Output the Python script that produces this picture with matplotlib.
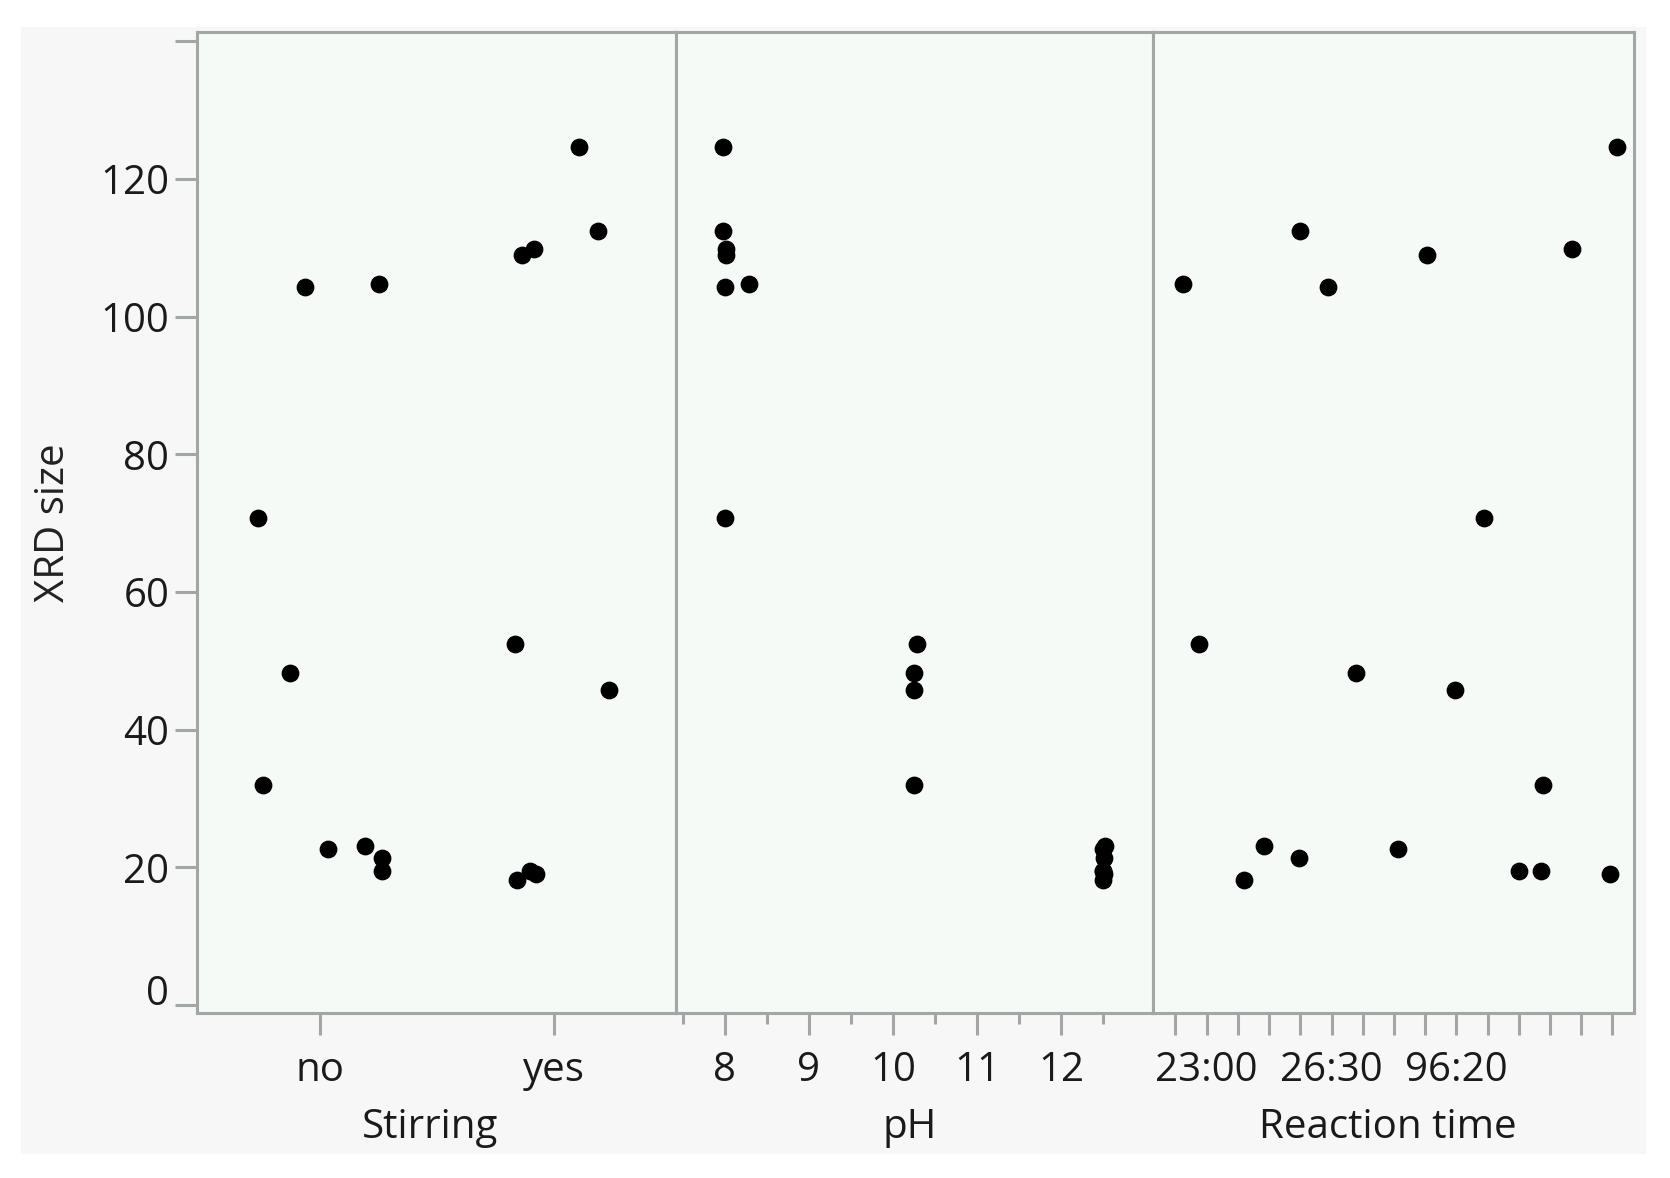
import matplotlib
matplotlib.use("Agg")
import matplotlib.pyplot as plt
import matplotlib.transforms as mtrans
from matplotlib.patches import Rectangle

plt.rcParams['font.family'] = ['Open Sans', 'DejaVu Sans']

# ---- data (one entry per observation) ----
xrd_size = [124.7, 112.4, 109.8, 109.0, 104.8, 104.3, 70.7, 52.5, 48.2,
            45.7, 31.9, 23.1, 22.6, 21.4, 19.4, 19.5, 19.1, 18.1]
# Stirring: category index (0 = no, 1 = yes) plus the displayed jitter
stirring_pos = [1.107, 1.188, 0.915, 0.863, 0.252, -0.064, -0.265, 0.832, -0.128,
                1.233, -0.246, 0.192, 0.033, 0.264, 0.264, 0.897, 0.923, 0.842]
stirring_labels = ["no", "yes"]
# pH as displayed (with small jitter)
ph_pos = [7.98, 7.98, 8.01, 8.01, 8.29, 8.00, 8.00, 10.28, 10.25,
          10.25, 10.25, 12.52, 12.50, 12.51, 12.50, 12.49, 12.51, 12.50]
ph_ticks = [8, 9, 10, 11, 12]
ph_minor = [7.5, 8.5, 9.5, 10.5, 11.5, 12.5]
# Reaction time: ordinal category index (0..14) plus the displayed jitter
rt_pos = [14.14, 3.99, 12.70, 8.06, 0.25, 4.90, 9.87, 0.74, 5.78,
          8.94, 11.79, 2.83, 7.13, 3.97, 11.00, 11.72, 13.92, 2.19]
rt_n_categories = 15
rt_labels = {1: "23:00", 5: "26:30", 9: "96:20"}
y_ticks = [0, 20, 40, 60, 80, 100, 120, 140]
y_labels = ["0", "20", "40", "60", "80", "100", "120", ""]

# ---- figure ----
W, H = 1670, 1178
fig = plt.figure(figsize=(W / 100, H / 100), dpi=100, facecolor="white")

# gray report background
fig.patches.append(Rectangle((21 / W, 1 - 1154 / H), (1646 - 21) / W, (1154 - 27) / H,
                             transform=fig.transFigure, facecolor="#f7f7f7",
                             edgecolor="none", zorder=-10))

frame_col = "#a2a7a3"
bg_col = "#f5faf7"
txt_col = "#1a1a1a"
lw = 2.2
fs = 29

top_px, bot_px = 32.5, 1013
edges = [197, 676, 1153, 1634]
axes = []
for i in range(3):
    ax = fig.add_axes([edges[i] / W, 1 - bot_px / H, (edges[i + 1] - edges[i]) / W,
                       (bot_px - top_px) / H])
    ax.set_facecolor(bg_col)
    for s in ax.spines.values():
        s.set_color(frame_col)
        s.set_linewidth(lw)
    ax.set_ylim(-1.16, 141.3)
    axes.append(ax)

ax1, ax2, ax3 = axes

ms = 11.8
for ax, xs in zip(axes, [stirring_pos, ph_pos, rt_pos]):
    ax.plot(xs, xrd_size, linestyle="none", marker="o", markersize=ms,
            markerfacecolor="black", markeredgecolor="black", clip_on=False, zorder=5)

# y axis on the first panel only
ax1.set_yticks(y_ticks)
ax1.set_yticklabels(y_labels, fontsize=fs, color=txt_col)
ax1.tick_params(axis="y", length=16, width=lw, color=frame_col, pad=4)
lab0 = ax1.get_yticklabels()[0]
lab0.set_transform(lab0.get_transform() +
                   mtrans.ScaledTranslation(0, 15 / 100, fig.dpi_scale_trans))
ax1.set_ylabel("XRD size", fontsize=fs, color="#222222")
ax1.yaxis.set_label_coords((54 - 197) / (676 - 197), 0.5)
ax1.yaxis.label.set_verticalalignment("center")
for ax in (ax2, ax3):
    ax.set_yticks([])

# Stirring axis
ax1.set_xlim(-0.526, 1.521)
ax1.set_xticks([0, 1])
ax1.set_xticklabels(stirring_labels, fontsize=fs, color=txt_col)
ax1.tick_params(axis="x", length=16, width=lw, color=frame_col, pad=11)

# pH axis
ax2.set_xlim(7.42, 13.09)
ax2.set_xticks(ph_ticks)
ax2.set_xticks(ph_minor, minor=True)
ax2.set_xticklabels([str(t) for t in ph_ticks], fontsize=fs, color=txt_col)
ax2.tick_params(axis="x", which="major", length=16, width=lw, color=frame_col, pad=11)
ax2.tick_params(axis="x", which="minor", length=8, width=lw, color=frame_col)

# Reaction time axis
ax3.set_xlim(-0.72, 14.69)
ax3.set_xticks(range(rt_n_categories))
ax3.set_xticklabels([rt_labels.get(k, "") for k in range(rt_n_categories)],
                    fontsize=fs, color=txt_col)
ax3.tick_params(axis="x", length=16, width=lw, color=frame_col, pad=11)

# axis titles
title_y = (bot_px - 1128) / (bot_px - top_px)
for i, (ax, name, cx) in enumerate(zip(axes, ["Stirring", "pH", "Reaction time"],
                                        [430, 910, 1388])):
    ax.set_xlabel(name, fontsize=fs, color=txt_col)
    ax.xaxis.set_label_coords((cx - edges[i]) / (edges[i + 1] - edges[i]), title_y)
    ax.xaxis.label.set_verticalalignment("center")

fig.savefig("out.png", dpi=100, facecolor="white")
